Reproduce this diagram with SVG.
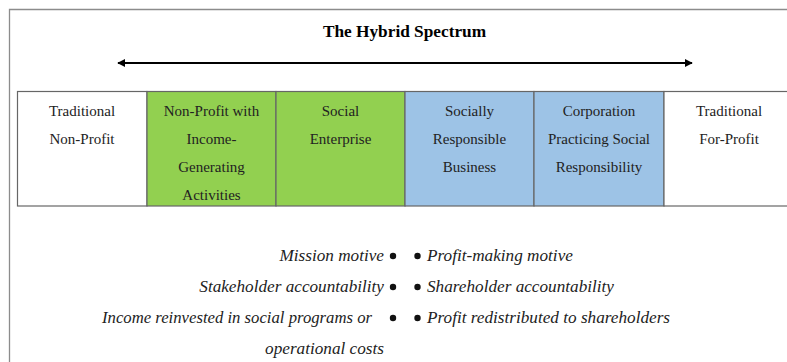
<svg xmlns="http://www.w3.org/2000/svg" width="787" height="362" viewBox="0 0 787 362" font-family="'Liberation Serif', 'DejaVu Serif', serif">
  <style>
    text { font-family: 'Liberation Serif', 'DejaVu Serif', serif; }
    .title { font-weight: bold; font-size: 17.3px; fill: #000; }
    .cell-text { font-size: 15px; fill: #222; text-anchor: middle; }
    .trait { font-style: italic; font-size: 17.2px; fill: #222; }
    .left { text-anchor: end; }
    .cell { stroke: #666; stroke-width: 1.2; }
    .white { fill: #fff; }
    .green { fill: #92D050; }
    .blue { fill: #9DC3E6; }
    .bullet { fill: #111; }
  </style>
  <defs>
    <marker id="head" viewBox="0 0 10 10" refX="9" refY="5" markerWidth="4" markerHeight="4" orient="auto-start-reverse">
      <path d="M0,0 L10,5 L0,10 z" fill="#000"/>
    </marker>
  </defs>

  <rect x="0" y="0" width="787" height="362" fill="#fff"/>
  <!-- outer frame -->
  <path d="M9.5,370 L9.5,9.5 L800,9.5" fill="none" stroke="#8c8c8c" stroke-width="1.3"/>

  <text class="title" x="404.5" y="37" text-anchor="middle">The Hybrid Spectrum</text>

  <g id="connectors">
    <line x1="118" y1="63" x2="692" y2="63" stroke="#000" stroke-width="2" marker-start="url(#head)" marker-end="url(#head)"/>
  </g>

  <g id="traditional-nonprofit">
    <rect class="cell white" x="17.5" y="91.5" width="129.5" height="114.5"/>
    <text class="cell-text" x="82" y="116">Traditional</text>
    <text class="cell-text" x="82" y="144">Non-Profit</text>
  </g>
  <g id="nonprofit-income">
    <rect class="cell green" x="147" y="91.5" width="129" height="114.5"/>
    <text class="cell-text" x="211.5" y="116">Non-Profit with</text>
    <text class="cell-text" x="211.5" y="144">Income-</text>
    <text class="cell-text" x="211.5" y="172">Generating</text>
    <text class="cell-text" x="211.5" y="200">Activities</text>
  </g>
  <g id="social-enterprise">
    <rect class="cell green" x="276" y="91.5" width="129" height="114.5"/>
    <text class="cell-text" x="340.5" y="116">Social</text>
    <text class="cell-text" x="340.5" y="144">Enterprise</text>
  </g>
  <g id="socially-responsible">
    <rect class="cell blue" x="405" y="91.5" width="129" height="114.5"/>
    <text class="cell-text" x="469.5" y="116">Socially</text>
    <text class="cell-text" x="469.5" y="144">Responsible</text>
    <text class="cell-text" x="469.5" y="172">Business</text>
  </g>
  <g id="corporation-csr">
    <rect class="cell blue" x="534" y="91.5" width="130" height="114.5"/>
    <text class="cell-text" x="599" y="116">Corporation</text>
    <text class="cell-text" x="599" y="144">Practicing Social</text>
    <text class="cell-text" x="599" y="172">Responsibility</text>
  </g>
  <g id="traditional-forprofit">
    <rect class="cell white" x="664" y="91.5" width="140" height="114.5"/>
    <text class="cell-text" x="729" y="116">Traditional</text>
    <text class="cell-text" x="729" y="144">For-Profit</text>
  </g>

  <g id="nonprofit-traits">
    <text class="trait left" x="384" y="261">Mission motive</text>
    <text class="trait left" x="384" y="292">Stakeholder accountability</text>
    <text class="trait" x="102" y="323" textLength="270" lengthAdjust="spacingAndGlyphs">Income reinvested in social programs or</text>
    <text class="trait left" x="384" y="354">operational costs</text>
    <circle class="bullet" cx="393" cy="256" r="3.2"/>
    <circle class="bullet" cx="393" cy="287" r="3.2"/>
    <circle class="bullet" cx="393" cy="318" r="3.2"/>
  </g>
  <g id="forprofit-traits">
    <circle class="bullet" cx="417.5" cy="256" r="3.2"/>
    <circle class="bullet" cx="417.5" cy="287" r="3.2"/>
    <circle class="bullet" cx="417.5" cy="318" r="3.2"/>
    <text class="trait" x="427" y="261">Profit-making motive</text>
    <text class="trait" x="427" y="292">Shareholder accountability</text>
    <text class="trait" x="427" y="323">Profit redistributed to shareholders</text>
  </g>
</svg>
